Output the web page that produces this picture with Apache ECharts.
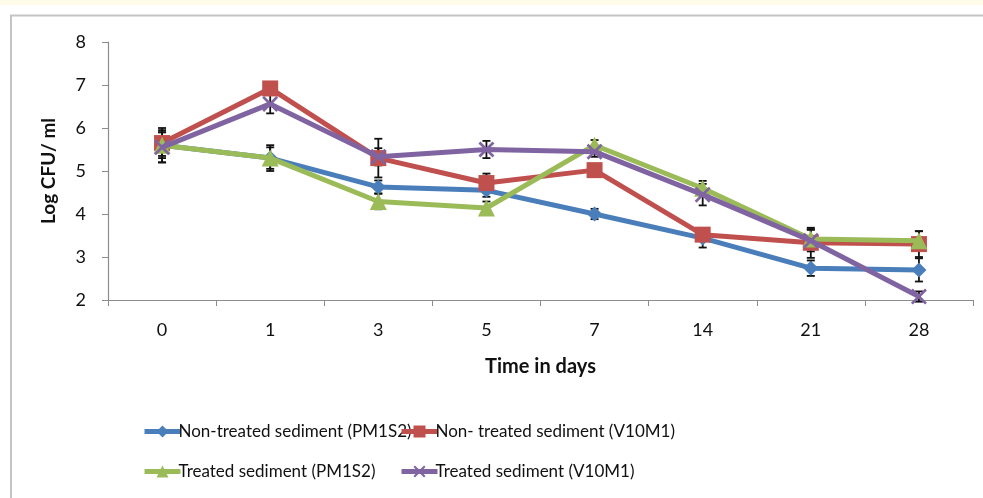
<!DOCTYPE html>
<html>
<head>
<meta charset="utf-8">
<script src="https://cdn.jsdelivr.net/npm/echarts@6/dist/echarts.min.js"></script>
<style>
html,body{margin:0;padding:0;background:#fff;}
#c{width:983px;height:498px;}
</style>
</head>
<body>
<div id="c"></div>
<script>
var categories = ['0','1','3','5','7','14','21','28'];
var seriesNames = ['Non-treated sediment (PM1S2)','Non- treated sediment (V10M1)','Treated sediment (PM1S2)','Treated sediment (V10M1)'];
var nonTreatedPM1S2 = [5.60, 5.30, 4.63, 4.55, 4.00, 3.44, 2.74, 2.70];
var nonTreatedV10M1 = [5.65, 6.92, 5.30, 4.72, 5.02, 3.52, 3.33, 3.30];
var treatedPM1S2    = [5.60, 5.30, 4.29, 4.14, 5.60, 4.60, 3.42, 3.38];
var treatedV10M1    = [5.55, 6.56, 5.33, 5.50, 5.45, 4.45, 3.38, 2.08];
var errNonTreatedPM1S2 = [0.30, 0.25, 0.15, 0.15, 0.12, 0.22, 0.18, 0.27];
var errNonTreatedV10M1 = [0.30, 0.15, 0.45, 0.22, 0.12, 0.12, 0.35, 0.30];
var errTreatedPM1S2    = [0.40, 0.30, 0.18, 0.15, 0.12, 0.17, 0.23, 0.22];
var errTreatedV10M1    = [0.35, 0.22, 0.20, 0.20, 0.12, 0.25, 0.25, 0.12];
var colors = ['#4a7ebb','#c0504d','#9bbb59','#8064a2'];
var symbols = ['diamond','rect','triangle','path://M0,1.2L1.2,0L5,3.8L8.8,0L10,1.2L6.2,5L10,8.8L8.8,10L5,6.2L1.2,10L0,8.8L3.8,5Z'];
var symbolSizes = [15, 16, 17, 16];

var values = [nonTreatedPM1S2, nonTreatedV10M1, treatedPM1S2, treatedV10M1];
var errors = [errNonTreatedPM1S2, errNonTreatedV10M1, errTreatedPM1S2, errTreatedV10M1];

var font = 'Lato';
var series = [];
values.forEach(function(v, si){
  var d = v.map(function(val, i){ return [i, val - errors[si][i], val + errors[si][i]]; });
  series.push({
    type: 'custom',
    name: 'err' + si,
    z: 1,
    silent: true,
    data: d,
    renderItem: function(params, api){
      var x = api.value(0);
      var lo = api.coord([x, api.value(1)]);
      var hi = api.coord([x, api.value(2)]);
      var hw = 4;
      var st = {stroke: '#111', lineWidth: 1.8};
      return {type: 'group', children: [
        {type: 'line', shape: {x1: lo[0], y1: lo[1], x2: hi[0], y2: hi[1]}, style: st},
        {type: 'line', shape: {x1: lo[0]-hw, y1: lo[1], x2: lo[0]+hw, y2: lo[1]}, style: st},
        {type: 'line', shape: {x1: hi[0]-hw, y1: hi[1], x2: hi[0]+hw, y2: hi[1]}, style: st}
      ]};
    }
  });
});
values.forEach(function(v, si){
  series.push({
    type: 'line',
    name: seriesNames[si],
    data: v,
    z: 3 + si,
    symbol: symbols[si],
    symbolSize: symbolSizes[si],
    showAllSymbol: true,
    lineStyle: {color: colors[si], width: 5},
    itemStyle: {color: colors[si]},
    emphasis: {disabled: true}
  });
});

var chart = echarts.init(document.getElementById('c'));
chart.setOption({
  animation: false,
  backgroundColor: '#ffffff',
  graphic: [
    {type: 'rect', shape: {x: 0, y: 0, width: 983, height: 5}, style: {fill: '#fffbe8'}, silent: true},
    {type: 'polyline', shape: {points: [[11, 498], [11, 15.5], [983, 15.5]]}, style: {stroke: '#c4c4c4', lineWidth: 2, fill: null}, silent: true}
  ],
  grid: {left: 108, right: 10, top: 42, bottom: 198},
  xAxis: {
    type: 'category',
    data: categories,
    boundaryGap: true,
    name: 'Time in days',
    nameLocation: 'middle',
    nameGap: 57,
    nameTextStyle: {fontFamily: font, fontWeight: 'bold', fontSize: 20, color: '#111'},
    axisLine: {lineStyle: {color: '#8c8c8c', width: 1.2}},
    axisTick: {show: true, length: 6, lineStyle: {color: '#8c8c8c'}},
    axisLabel: {fontFamily: font, fontSize: 18, color: '#111', margin: 21},
    splitLine: {show: false}
  },
  yAxis: {
    type: 'value',
    min: 2, max: 8, interval: 1,
    name: 'Log CFU/ ml',
    nameLocation: 'middle',
    nameGap: 50,
    nameRotate: 90,
    nameTextStyle: {fontFamily: font, fontWeight: 'bold', fontSize: 19, color: '#111'},
    axisLine: {show: true, lineStyle: {color: '#8c8c8c', width: 1.2}},
    axisTick: {show: true, length: 6, inside: false, lineStyle: {color: '#8c8c8c'}},
    axisLabel: {fontFamily: font, fontSize: 18, color: '#111', margin: 22},
    splitLine: {show: false}
  },
  legend: [
    {
      orient: 'vertical', left: 137, top: 418,
      data: [seriesNames[0], seriesNames[2]],
      itemWidth: 36, itemHeight: 15, itemGap: 23,
      lineStyle: {width: 5},
      textStyle: {fontFamily: font, fontSize: 17, color: '#111', padding: [0,0,0,-7]},
      selectedMode: false
    },
    {
      orient: 'vertical', left: 394, top: 418,
      data: [seriesNames[1], seriesNames[3]],
      itemWidth: 36, itemHeight: 15, itemGap: 23,
      lineStyle: {width: 5},
      textStyle: {fontFamily: font, fontSize: 17, color: '#111', padding: [0,0,0,-7]},
      selectedMode: false
    }
  ],
  series: series
});
</script>
</body>
</html>
